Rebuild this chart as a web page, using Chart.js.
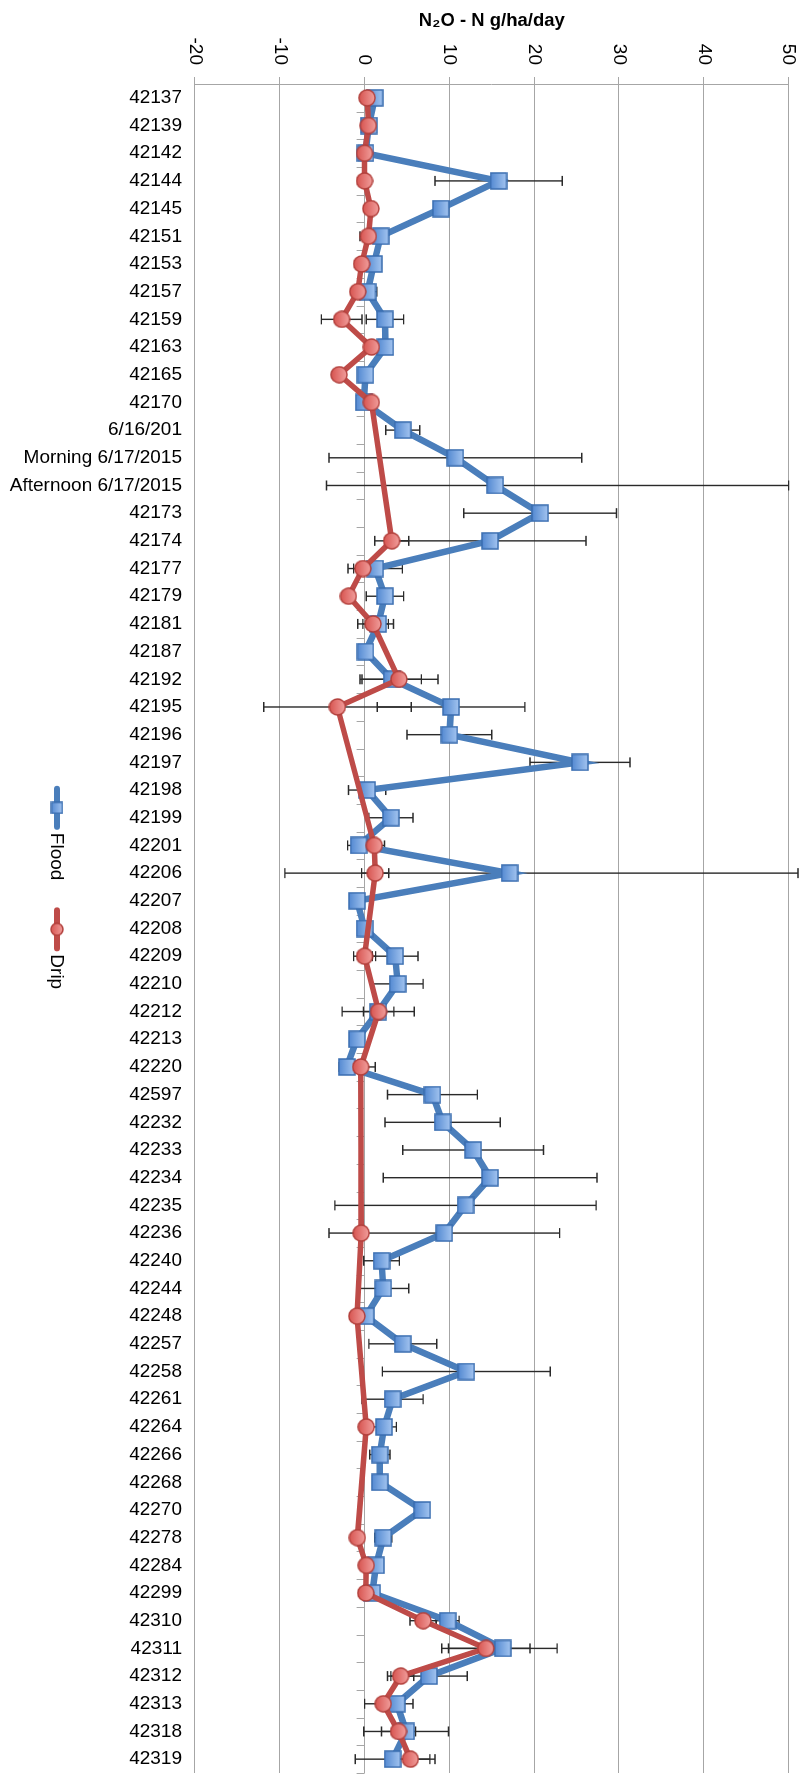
<!DOCTYPE html>
<html>
<head>
<meta charset="utf-8">
<script src="https://cdn.jsdelivr.net/npm/chart.js@4.4.0/dist/chart.umd.min.js"></script>
<style>
  html, body { margin: 0; padding: 0; background: #fff; }
  body { width: 812px; height: 1775px; overflow: hidden; position: relative; }
  /* the chart is drawn lying down and turned a quarter turn */
  #wrap { position: absolute; left: 0; top: 0; width: 1775px; height: 812px;
          transform-origin: 0 0; transform: translateX(812px) rotate(90deg); }
</style>
</head>
<body>
<div id="wrap"><canvas id="myChart" width="1775" height="812"></canvas></div>
<script>
// 날짜(카테고리)
const categories = ["42137", "42139", "42142", "42144", "42145", "42151", "42153", "42157", "42159", "42163",
    "42165", "42170", "6/16/201", "Morning 6/17/2015", "Afternoon 6/17/2015", "42173", "42174", "42177", "42179", "42181",
    "42187", "42192", "42195", "42196", "42197", "42198", "42199", "42201", "42206", "42207",
    "42208", "42209", "42210", "42212", "42213", "42220", "42597", "42232", "42233", "42234",
    "42235", "42236", "42240", "42244", "42248", "42257", "42258", "42261", "42264", "42266",
    "42268", "42270", "42278", "42284", "42299", "42310", "42311", "42312", "42313", "42318", "42319"];

// Flood 값과 오차 (아래쪽 / 위쪽)
const floodValues = [1.2, 0.5, 0.1, 15.8, 9.0, 1.9, 1.1, 0.35, 2.4, 2.45,
    0.1, -0.1, 4.5, 10.7, 15.4, 20.7, 14.8, 1.25, 2.4, 1.6,
    0.1, 3.2, 10.2, 10.0, 25.4, 0.3, 3.1, -0.7, 17.1, -0.9,
    0.0, 3.6, 3.9, 1.6, -0.9, -2.1, 8.0, 9.2, 12.8, 14.8,
    11.9, 9.4, 2.0, 2.2, 0.15, 4.5, 12.0, 3.3, 2.3, 1.8,
    1.8, 6.8, 2.2, 1.35, 0.9, 9.8, 16.3, 7.6, 3.8, 4.9, 3.3];
const floodErrorsLow = [0.7, 0, 0, 7.5, 0, 0, 0.8, 1.1, 2.2, 0,
    0, 0, 2.0, 14.9, 19.9, 9.0, 11.3, 3.2, 2.2, 1.8,
    0, 3.5, 8.7, 5.0, 5.9, 2.2, 2.6, 1.3, 26.5, 0,
    0, 2.7, 3.0, 4.25, 0, 0.9, 5.3, 6.8, 8.3, 12.6,
    15.4, 13.6, 2.1, 3.0, 0, 4.0, 9.9, 3.6, 1.45, 1.2,
    0, 0, 1.0, 0, 0, 1.35, 6.4, 4.5, 1.9, 5.0, 4.4];
const floodErrorsHigh = [0.7, 0, 0, 7.5, 0, 0, 0.8, 1.1, 2.2, 0,
    0, 0, 2.0, 14.9, 34.6, 9.0, 11.3, 3.2, 2.2, 1.8,
    0, 3.5, 8.7, 5.0, 5.9, 2.2, 2.6, 1.3, 34.0, 0,
    0, 2.7, 3.0, 4.25, 0, 0.9, 5.3, 6.8, 8.3, 12.6,
    15.4, 13.6, 2.1, 3.0, 0, 4.0, 9.9, 3.6, 1.45, 1.2,
    0, 0, 1.0, 0, 0, 1.35, 6.4, 4.5, 1.9, 5.0, 4.4];

// Drip 값과 오차 (null = 측정 없음)
const dripValues = [0.3, 0.45, 0.0, 0.0, 0.75, 0.45, -0.35, -0.8, -2.7, 0.8,
    -3.0, 0.8, null, null, null, null, 3.2, -0.2, -1.9, 1.0,
    null, 4.05, -3.2, null, null, null, null, 1.15, 1.25, null,
    null, 0.0, null, 1.65, null, -0.45, null, null, null, null,
    null, -0.4, null, null, -0.9, null, null, null, 0.2, null,
    null, null, -0.85, 0.2, 0.15, 6.9, 14.3, 4.25, 2.2, 4.0, 5.4];
const dripErrors = [0, 0, 0, 0, 0, 1.0, 0, 0, 2.4, 0,
    0, 0, 0, 0, 0, 0, 2.0, 1.1, 0, 1.8,
    0, 4.6, 8.7, 0, 0, 0, 0, 1.2, 1.6, 0,
    0, 1.3, 0, 1.8, 0, 1.7, 0, 0, 0, 0,
    0, 0, 0, 0, 0, 0, 0, 0, 0, 0,
    0, 0, 0, 0, 0, 1.55, 5.2, 1.55, 2.2, 2.0, 2.9];

// 값 축 눈금
const valueTicks = [-20, -10, 0, 10, 20, 30, 40, 50];

const FONT = "'Liberation Sans', Arial, sans-serif";
const GRID = "#a6a6a6";

// 마커 그림 만들기
function makeMarker(shape, size, light, dark, stroke) {
    const c = document.createElement("canvas");
    c.width = size; c.height = size;
    const g = c.getContext("2d");
    const grad = g.createLinearGradient(0, 0, 0, size);
    grad.addColorStop(0, light);
    grad.addColorStop(1, dark);
    g.fillStyle = grad;
    g.strokeStyle = stroke;
    g.lineWidth = 1.5;
    if (shape === "rect") {
        g.fillRect(1, 1, size - 2, size - 2);
        g.strokeRect(1, 1, size - 2, size - 2);
    } else {
        g.beginPath();
        g.arc(size / 2, size / 2, size / 2 - 1, 0, Math.PI * 2);
        g.fill();
        g.stroke();
    }
    return c;
}

const floodMarker = makeMarker("rect", 18, "#a8c8f2", "#4f86d0", "#3a6db0");
const dripMarker = makeMarker("circle", 18, "#f3a3a1", "#d6504c", "#b2403c");
const floodLegendMarker = makeMarker("rect", 13, "#a8c8f2", "#4f86d0", "#3a6db0");
const dripLegendMarker = makeMarker("circle", 14, "#f3a3a1", "#d6504c", "#b2403c");

const seriesErrors = [
    { low: floodErrorsLow, high: floodErrorsHigh },
    { low: dripErrors, high: dripErrors }
];

// 오차 막대와 0 축의 작은 눈금
const errorBarPlugin = {
    id: "errorBars",
    beforeDatasetsDraw(chart) {
        const ctx = chart.ctx;
        const xs = chart.scales.x, ys = chart.scales.y;
        const area = chart.chartArea;
        ctx.save();

        // 카테고리 축 눈금 (값 0 위치)
        const y0 = ys.getPixelForValue(0);
        const step = (area.right - area.left) / categories.length;
        ctx.strokeStyle = GRID;
        ctx.lineWidth = 1;
        ctx.beginPath();
        for (let k = 0; k <= categories.length; k++) {
            const xb = Math.round(area.left + k * step) + 0.5;
            ctx.moveTo(xb, y0);
            ctx.lineTo(xb, y0 + 8);
        }
        ctx.stroke();

        ctx.strokeStyle = "#2a2a2a";
        ctx.lineWidth = 1.4;
        chart.data.datasets.forEach((ds, i) => {
            const errs = seriesErrors[i];
            ds.data.forEach((v, j) => {
                if (v === null || (!errs.low[j] && !errs.high[j])) return;
                const x = xs.getPixelForValue(j);
                const yLo = ys.getPixelForValue(v - errs.low[j]);
                const yHi = ys.getPixelForValue(v + errs.high[j]);
                ctx.beginPath();
                ctx.moveTo(x, yLo); ctx.lineTo(x, yHi);
                ctx.moveTo(x - 5, yLo); ctx.lineTo(x + 5, yLo);
                ctx.moveTo(x - 5, yHi); ctx.lineTo(x + 5, yHi);
                ctx.stroke();
            });
        });
        ctx.restore();
    }
};

// 범례 (선 + 마커 + 글자)
const legendPlugin = {
    id: "lineLegend",
    afterDraw(chart) {
        const ctx = chart.ctx;
        const items = [
            { text: "Flood", color: "#4a7ebb", marker: floodLegendMarker },
            { text: "Drip", color: "#be4b48", marker: dripLegendMarker }
        ];
        ctx.save();
        ctx.font = "19px " + FONT;
        const symLen = 44, gapText = 3, gapItem = 27;
        let total = 0;
        items.forEach((it, i) => {
            it.w = ctx.measureText(it.text).width;
            total += symLen + gapText + it.w + (i ? gapItem : 0);
        });
        let x = chart.width / 2 - total / 2;
        const y = chart.chartArea.bottom + 138;
        items.forEach((it) => {
            ctx.strokeStyle = it.color;
            ctx.lineWidth = 6;
            ctx.lineCap = "round";
            ctx.beginPath();
            ctx.moveTo(x + 3, y);
            ctx.lineTo(x + symLen - 3, y);
            ctx.stroke();
            ctx.drawImage(it.marker, x + symLen / 2 - it.marker.width / 2, y - it.marker.height / 2);
            ctx.fillStyle = "#000";
            ctx.textBaseline = "middle";
            ctx.textAlign = "left";
            ctx.fillText(it.text, x + symLen + gapText, y + 1);
            x += symLen + gapText + it.w + gapItem;
        });
        ctx.restore();
    }
};

let chart;

function initChart() {
    const ctx = document.getElementById("myChart").getContext("2d");
    chart = new Chart(ctx, {
        type: "line",
        data: {
            labels: categories,
            datasets: [
                {
                    label: "Flood",
                    data: floodValues,
                    borderColor: "#4a7ebb",
                    borderWidth: 6.5,
                    pointStyle: floodMarker,
                    pointRadius: 8,
                    tension: 0,
                    spanGaps: true,
                    order: 1
                },
                {
                    label: "Drip",
                    data: dripValues,
                    borderColor: "#be4b48",
                    borderWidth: 5.5,
                    pointStyle: dripMarker,
                    pointRadius: 8,
                    tension: 0,
                    spanGaps: true,
                    order: 0
                }
            ]
        },
        options: {
            responsive: false,
            animation: false,
            events: [],
            layout: { autoPadding: false, padding: { left: 0, right: 2, top: 16, bottom: 0 } },
            plugins: {
                legend: { display: false },
                tooltip: { enabled: false }
            },
            scales: {
                x: {
                    type: "category",
                    offset: true,
                    grid: { display: false, drawTicks: false },
                    border: { display: false },
                    ticks: {
                        autoSkip: false,
                        minRotation: 90,
                        maxRotation: 90,
                        padding: 13,
                        color: "#000",
                        font: { family: FONT, size: 19 }
                    },
                    afterFit: (s) => {
                        s.height = 195;
                        s.paddingLeft = 0;
                        s.paddingRight = 0;
                    }
                },
                y: {
                    min: -20,
                    max: 50,
                    afterBuildTicks: (s) => { s.ticks = valueTicks.map((v) => ({ value: v })); },
                    grid: { color: GRID, lineWidth: 1, tickLength: 7 },
                    border: { display: true, color: GRID },
                    ticks: {
                        padding: 12,
                        color: "#000",
                        font: { family: FONT, size: 19 }
                    },
                    title: {
                        display: true,
                        text: "N\u2082O - N g/ha/day",
                        color: "#000",
                        font: { family: FONT, size: 18.5, weight: "bold" },
                        padding: { top: 10, bottom: 0 }
                    },
                    afterFit: (s) => { s.width = 84; }
                }
            }
        },
        plugins: [errorBarPlugin, legendPlugin]
    });
}

window.onload = function () {
    initChart();
};
</script>
</body>
</html>
